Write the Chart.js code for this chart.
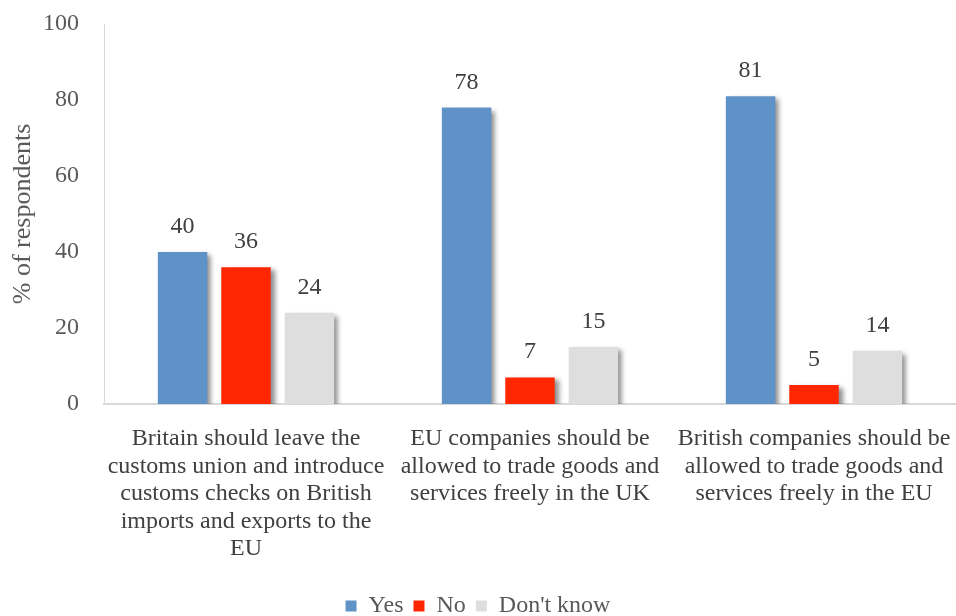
<!DOCTYPE html>
<html lang="en">
  <head>
    <meta charset="utf-8" />
    <title>Customs union survey</title>
    <style>
      * {
        margin: 0;
        padding: 0;
      }
      body {
        background: #ffffff;
      }
      .chartBox {
        width: 956px;
        height: 616px;
      }
    </style>
  </head>
  <body>
    <div class="chartBox">
      <canvas id="myChart"></canvas>
    </div>
    <script src="https://cdn.jsdelivr.net/npm/chart.js"></script>
    <script>
      // data
      const categories = [
        ['Britain should leave the', 'customs union and introduce', 'customs checks on British', 'imports and exports to the', 'EU'],
        ['EU companies should be', 'allowed to trade goods and', 'services freely in the UK'],
        ['British companies should be', 'allowed to trade goods and', 'services freely in the EU'],
      ];
      const yesValues = [40, 78, 81];
      const noValues = [36, 7, 5];
      const dontKnowValues = [24, 15, 14];
      const yTicks = [0, 20, 40, 60, 80, 100];

      const serif = "'Liberation Serif', 'Times New Roman', serif";

      // bar shadow
      const shadowPlugin = {
        id: 'barShadow',
        beforeDatasetsDraw(chart) {
          const ctx = chart.ctx;
          ctx.save();
          ctx.shadowColor = 'rgba(0, 0, 0, 0.45)';
          ctx.shadowBlur = 5;
          ctx.shadowOffsetX = 4;
          ctx.shadowOffsetY = 3;
        },
        afterDatasetsDraw(chart) {
          chart.ctx.restore();
        },
      };

      // value labels above bars
      const valueLabels = {
        id: 'valueLabels',
        afterDatasetsDraw(chart) {
          const ctx = chart.ctx;
          ctx.save();
          ctx.font = '24px ' + serif;
          ctx.fillStyle = '#404040';
          ctx.textAlign = 'center';
          ctx.textBaseline = 'alphabetic';
          chart.data.datasets.forEach((ds, i) => {
            chart.getDatasetMeta(i).data.forEach((bar, j) => {
              ctx.fillText(ds.data[j], bar.x, bar.y - 19);
            });
          });
          ctx.restore();
        },
      };

      const data = {
        labels: categories,
        datasets: [
          { label: 'Yes', data: yesValues, backgroundColor: '#5f93c7' },
          { label: 'No', data: noValues, backgroundColor: '#ff2600' },
          { label: "Don't know", data: dontKnowValues, backgroundColor: '#dedede' },
        ],
      };

      const config = {
        type: 'bar',
        data,
        options: {
          responsive: true,
          maintainAspectRatio: false,
          animation: false,
          categoryPercentage: 0.67,
          barPercentage: 0.78,
          layout: { padding: { top: 24, right: 0, left: 0, bottom: -12 } },
          scales: {
            x: {
              grid: { display: false },
              border: { color: '#d9d9d9', width: 2 },
              ticks: {
                color: '#404040',
                font: { family: serif, size: 24, lineHeight: 1.15 },
                maxRotation: 0,
                padding: 13,
              },
              afterFit(scale) {
                scale.height = 180;
                scale.paddingLeft = 0;
                scale.paddingRight = 0;
              },
            },
            y: {
              min: 0,
              max: 100,
              afterBuildTicks(axis) {
                axis.ticks = yTicks.map((v) => ({ value: v }));
              },
              afterFit(scale) {
                scale.width = 104;
                scale.paddingTop = 0;
                scale.paddingBottom = 0;
              },
              grid: { display: false },
              border: { color: '#d9d9d9', width: 1 },
              ticks: {
                color: '#595959',
                font: { family: serif, size: 24 },
                padding: 17,
              },
              title: {
                display: true,
                text: '% of respondents',
                color: '#595959',
                font: { family: serif, size: 26, lineHeight: 1.15 },
                padding: { top: 8, bottom: 0 },
              },
            },
          },
          plugins: {
            legend: {
              position: 'bottom',
              labels: {
                boxWidth: 11,
                boxHeight: 11,
                color: '#595959',
                font: { family: serif, size: 24 },
                padding: 10,
              },
            },
            tooltip: { enabled: false },
          },
        },
        plugins: [shadowPlugin, valueLabels],
      };

      const myChart = new Chart(document.getElementById('myChart'), config);
    </script>
  </body>
</html>
